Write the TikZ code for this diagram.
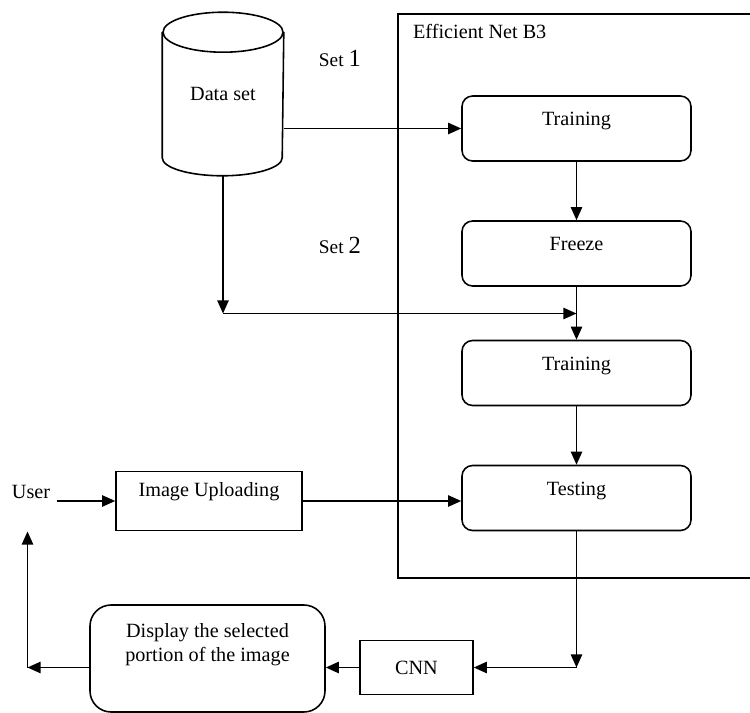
\documentclass[tikz,border=0pt]{standalone}
\usepackage{fontspec}
\setmainfont{Liberation Serif}
\usepackage{tikz}
\usetikzlibrary{shapes.geometric,arrows.meta,positioning,calc}

\begin{document}
\begin{tikzpicture}[
    line width=0.9pt,
    >={Triangle[length=7.5pt,width=6.5pt]},
    every node/.style={font=\fontsize{11.5}{14}\selectfont},
    stage/.style={rectangle, draw, rounded corners=6pt,
                  minimum width=4.58cm, inner sep=0.15cm,
                  text height=0.44cm, text depth=0.56cm},
    plain/.style={rectangle, draw, inner sep=0.15cm},
    dbase/.style={rectangle, inner sep=0pt,
                  minimum height=3.24cm, minimum width=2.4cm},
    setlbl/.style={inner sep=1pt},
  ]
  \useasboundingbox (0,0) rectangle (15,-14.26);

  % Data set and split labels
  \node[dbase] (ds) at (4.46,-1.88) {Data set};
  \draw ([yshift=-0.4cm]ds.north west) -- ([yshift=0.36cm]ds.south west)
        arc[start angle=180, end angle=360, x radius=1.2cm, y radius=0.36cm]
        -- ([yshift=-0.4cm]ds.north east);
  \draw ([yshift=-0.4cm]ds.north) ellipse [x radius=1.2cm, y radius=0.4cm];
  \node[setlbl] (s1) at (6.8,-1.16) {{\fontsize{11}{13}\selectfont Set} {\fontsize{14}{16}\selectfont 1}};
  \node[setlbl] (s2) at (6.8,-4.9) {{\fontsize{11}{13}\selectfont Set} {\fontsize{14}{16}\selectfont 2}};

  % Efficient Net B3 frame
  \node[rectangle, draw, minimum width=7.6cm, minimum height=11.28cm,
        anchor=north west, inner sep=0pt] (enb) at (7.94,-0.26) {};
  \node[anchor=west] (enbl) at (8.13,-0.62) {Efficient Net B3};

  % Stages
  \node[stage] (tr1) at (11.53,-2.57) {Training};
  \node[stage] (frz) at (11.53,-5.07) {Freeze};
  \node[stage] (tr2) at (11.53,-7.46) {Training};
  \node[stage] (tst) at (11.53,-9.96) {Testing};

  % User side
  \node (usr) at (0.62,-9.83) {User};
  \node[plain, minimum width=3.72cm, text height=0.34cm, text depth=0.54cm] (img) at (4.18,-10.02) {Image Uploading};
  \node[plain, minimum width=2.26cm, minimum height=1.08cm] (cnn) at (8.33,-13.35) {CNN};
  \node[rectangle, draw, rounded corners=12pt, minimum width=4.7cm,
        minimum height=2.14cm, align=center] (disp) at (4.15,-13.17)
        {Display the selected\\portion of the image\\[0.15cm]~};

  \coordinate (jn) at (4.56,-6.27);
  \coordinate (upend) at (0.55,-10.63);

  % Data flow
  \draw[->] (ds.east |- tr1.west) -- (tr1.west);
  \draw[->] (ds.south) -- (ds.south |- jn);
  \draw[->] (ds.south |- jn) -- (tr2.north |- jn);
  \draw[->] (tr1.south) -- (frz.north);
  \draw[->] (frz.south) -- (tr2.north);
  \draw[->] (tr2.south) -- (tst.north);

  % Upload and result
  \draw[->] (usr.east |- img.west) -- (img.west);
  \draw[->] (img.east) -- (img.east -| tst.west);
  \draw[->] (tst.south) -- (tst.south |- cnn.east);
  \draw[->] (tst.south |- cnn.east) -- (cnn.east);
  \draw[->] (cnn.west) -- (cnn.west -| disp.east);
  \draw[->] (disp.west |- cnn.west) -- (upend |- cnn.west);
  \draw[->] (upend |- cnn.west) -- (upend);
\end{tikzpicture}
\end{document}
